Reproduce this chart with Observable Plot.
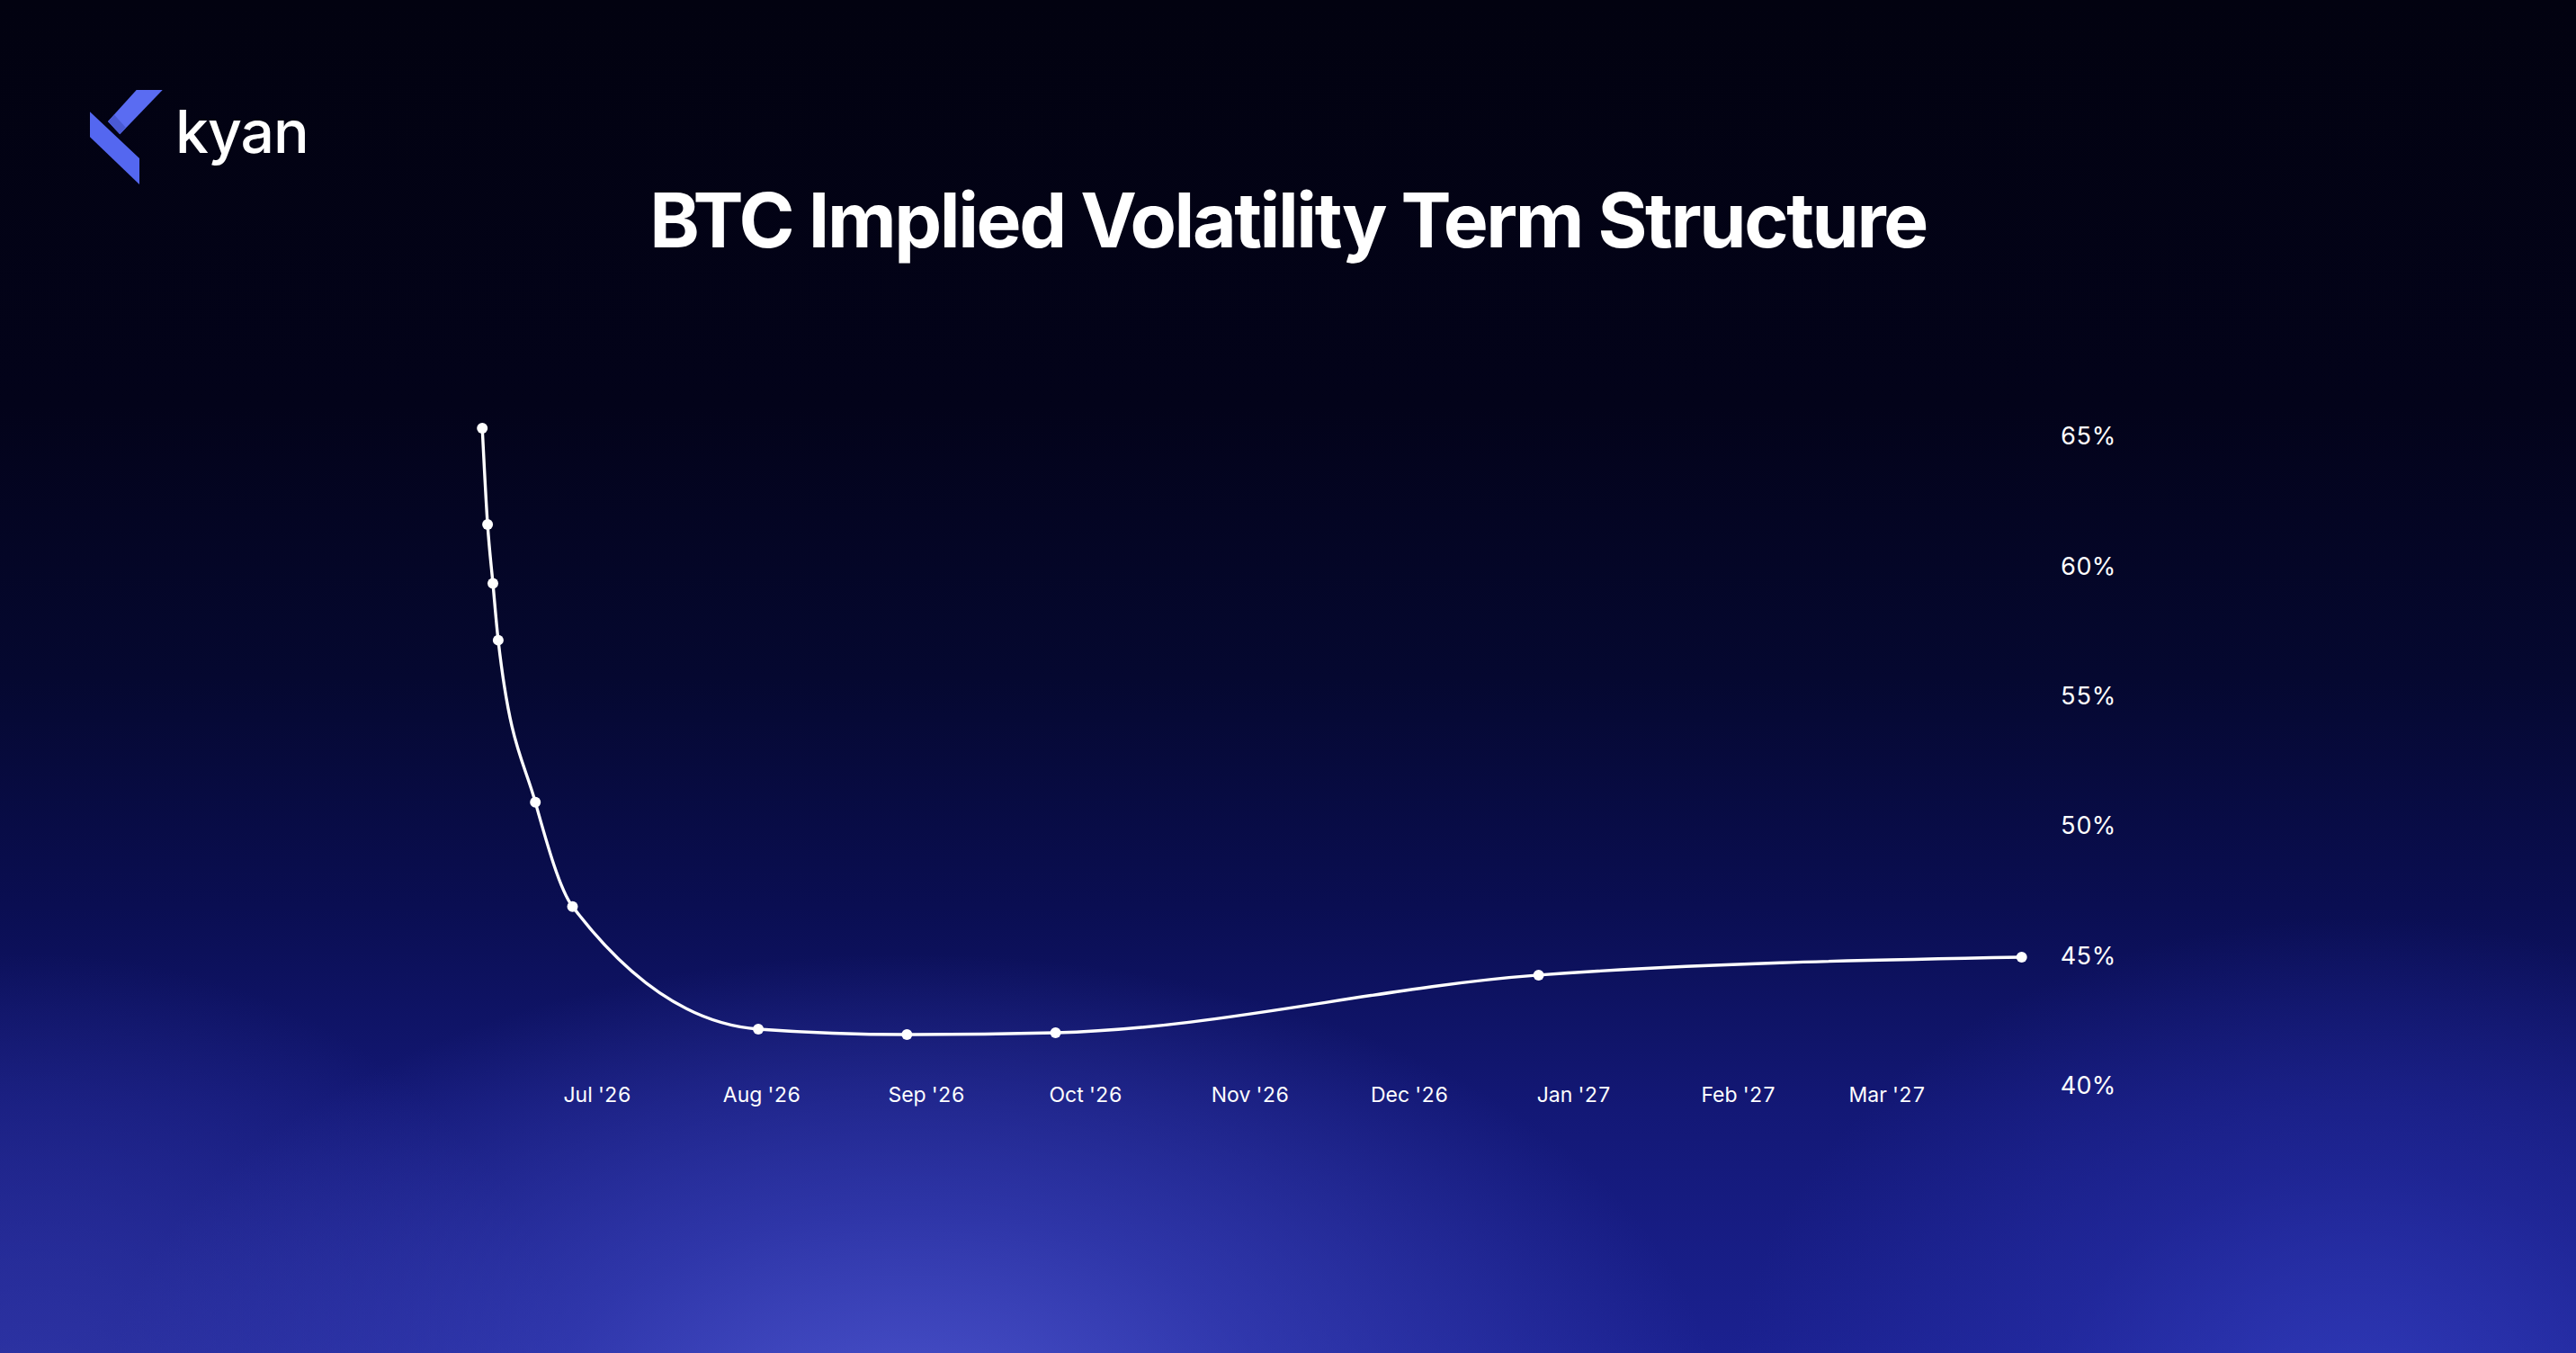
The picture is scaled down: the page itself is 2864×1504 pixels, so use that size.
<!DOCTYPE html>
<html>
<head>
<meta charset="utf-8">
<script src="https://cdn.jsdelivr.net/npm/d3@7"></script>
<script src="https://cdn.jsdelivr.net/npm/@observablehq/plot@0.6"></script>
<style>
  html, body { margin: 0; padding: 0; }
  body {
    width: 2864px; height: 1504px; overflow: hidden;
    font-family: Inter, "DejaVu Sans", sans-serif;
    background:
      radial-gradient(ellipse 900px 520px at 1010px 1580px, rgba(76,84,205,0.95) 0%, rgba(62,70,192,0.6) 45%, rgba(40,46,160,0) 100%),
      radial-gradient(ellipse 700px 560px at 2620px 1580px, rgba(50,60,188,0.9) 0%, rgba(42,50,175,0.45) 50%, rgba(30,36,150,0) 100%),
      radial-gradient(ellipse 600px 520px at 40px 1580px, rgba(50,56,168,0.85) 0%, rgba(42,48,155,0) 100%),
      linear-gradient(to bottom, #020210 0%, #03031a 30%, #050830 50%, #0a0e52 67%, #131876 82%, #1b2190 100%);
  }
  #header { position: relative; height: 400px; width: 2864px; }
  #logo { position: absolute; left: 0; top: 0; }
  #brand { position: absolute; left: 195px; top: 113px; font-size: 66px; line-height: 66px; font-weight: 500; color: #ffffff; letter-spacing: -1px; }
  #title { position: absolute; left: 0; width: 2864px; top: 203px; text-align: center; font-size: 84px; line-height: 84px; font-weight: 700; color: #ffffff; letter-spacing: -2.4px; }
  #chart svg { display: block; }
</style>
</head>
<body>
<div id="header">
  <svg id="logo" width="400" height="260">
    <polygon points="151.7,100 180.7,100 133.3,149.3 120,135" fill="#5a6cf2"/>
    <polygon points="120,135 133.3,149.3 140,142 127,127.5" fill="#4a5ad4"/>
    <polygon points="100,124.3 155,176 155,205 100,152.3" fill="#5467f0"/>
  </svg>
  <div id="brand">kyan</div>
  <div id="title">BTC Implied Volatility Term Structure</div>
</div>
<div id="chart"></div>
<script>
// Expiry dates (Deribit-style, 08:00 UTC)
const expiries = [
  "2026-06-09T08:00:00Z", "2026-06-10T08:00:00Z", "2026-06-11T08:00:00Z", "2026-06-12T08:00:00Z",
  "2026-06-19T08:00:00Z", "2026-06-26T08:00:00Z", "2026-07-31T08:00:00Z", "2026-08-28T08:00:00Z",
  "2026-09-25T08:00:00Z", "2026-12-25T08:00:00Z", "2027-03-26T08:00:00Z"
];
// ATM implied volatility (%)
const impliedVol = [65.33, 61.62, 59.36, 57.17, 50.93, 46.92, 42.20, 41.99, 42.06, 44.28, 44.97];
// Axis ticks
const monthTicks = ["2026-07-01", "2026-08-01", "2026-09-01", "2026-10-01", "2026-11-01",
                    "2026-12-01", "2027-01-01", "2027-02-01", "2027-03-01"];
const volTicks = [40, 45, 50, 55, 60, 65];

const data = expiries.map((d, i) => ({date: new Date(d), iv: impliedVol[i]}));
const fmtMonth = d3.utcFormat("%b '%y");

const chart = Plot.plot({
  width: 2864,
  height: 1104,
  marginLeft: 535.7,
  marginRight: 616.8,
  marginTop: 85,
  marginBottom: 297,
  style: {background: "transparent", color: "#ffffff", fontFamily: "Inter, 'DejaVu Sans', sans-serif", overflow: "visible"},
  x: {type: "utc", domain: [data[0].date, data[data.length - 1].date]},
  y: {domain: [40, 65]},
  marks: [
    Plot.axisX({ticks: monthTicks.map(d => new Date(d + "T00:00:00Z")), tickFormat: fmtMonth, tickSize: 0, tickPadding: 1, fontSize: 23, label: null, fill: "#ffffff"}),
    Plot.axisY({anchor: "right", ticks: volTicks, tickFormat: d => d + "%", tickSize: 0, tickPadding: 43, fontSize: 27, label: null, fill: "#ffffff"}),
    Plot.line(data, {x: "date", y: "iv", curve: "monotone-x", stroke: "#ffffff", strokeWidth: 3.4}),
    Plot.dot(data, {x: "date", y: "iv", r: 6, fill: "#ffffff", stroke: "none"})
  ]
});
document.getElementById("chart").appendChild(chart);
</script>
</body>
</html>
